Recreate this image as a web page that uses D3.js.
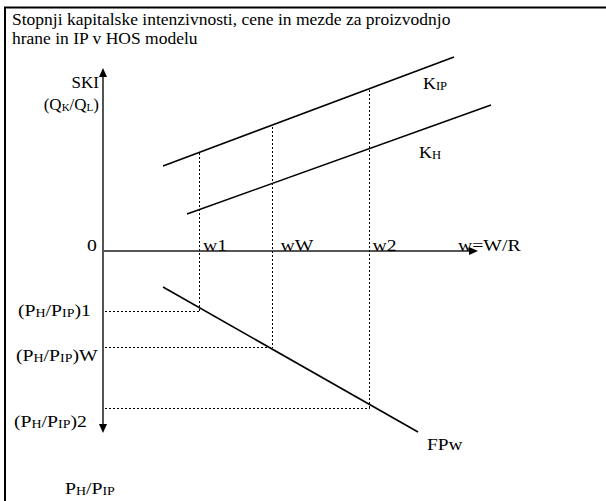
<!DOCTYPE html>
<html>
<head>
<meta charset="utf-8">
<script src="https://cdn.jsdelivr.net/npm/d3@7"></script>
<style>
  body { margin: 0; background: #fff; }
</style>
</head>
<body>
<div id="chart"></div>
<script>
// Title lines
const titleLines = ['Stopnji kapitalske intenzivnosti, cene in mezde za proizvodnjo', 'hrane in IP v HOS modelu'];

// Wage levels on the w = W/R axis
const wageNames = ['w1', 'wW', 'w2'];
const wageValues = [24, 42.25, 66.5];
// capital intensity of the IP line at each wage (top of the dotted guide)
const skiAtWage = [49, 62, 80.5];
// relative price at each wage (bottom of the dotted guide)
const priceAtWage = [30, 48, 78.5];
const priceNames = ['1', 'W', '2'];

// Capital intensity lines (w, SKI)
const kIP = [[15, 42.5], [87.75, 97]];
const kH = [[21, 18.5], [97, 73]];
// Factor price line (w, PH/PIP)
const fpw = [[15, 18], [78.75, 90.5]];

const axisEnds = {w: 93.75, ski: 91.5, price: 91};

const FONT = '"Liberation Serif", "Times New Roman", Times, serif';
const width = 606, height = 501;
const svg = d3.select('#chart').append('svg')
    .attr('width', width)
    .attr('height', height)
    .style('font-family', FONT);

// Scales
const xScale = d3.scaleLinear().domain([0, 100]).range([103, 503]);
const yScale = d3.scaleLinear().domain([0, 100]).range([251, 51]);   // SKI, upward
const pScale = d3.scaleLinear().domain([0, 100]).range([251, 451]);  // price, downward

// Frame
svg.append('rect')
    .attr('x', 5).attr('y', 7.5)
    .attr('width', 610).attr('height', 520)
    .attr('fill', 'none')
    .attr('stroke', '#000')
    .attr('stroke-width', 2);

// Label helper: main text with small subscripts, slightly widened like the original
function label(x, y, parts, opts) {
  const o = Object.assign({size: 17, sub: 12, sx: 1.16, anchor: 'start'}, opts);
  const t = svg.append('g')
      .attr('transform', `translate(${x},${y}) scale(${o.sx},1)`)
    .append('text')
      .attr('font-family', FONT)
      .attr('font-size', o.size)
      .attr('fill', '#000')
      .attr('text-anchor', o.anchor);
  let low = false;
  parts.forEach(p => {
    if (typeof p === 'string') {
      t.append('tspan').attr('font-size', o.size).attr('dy', low ? -1 : 0).text(p);
      low = false;
    } else {
      t.append('tspan').attr('font-size', o.sub).attr('dy', low ? 0 : 1).text(p.sub);
      low = true;
    }
  });
  return t;
}

// Title
titleLines.forEach((line, i) => label(12, 25 + i * 18.5, [line], {size: 17, sx: 1.03}));

// Axes
const axisColor = '#555';
svg.append('line')
    .attr('x1', xScale(0)).attr('x2', xScale(0))
    .attr('y1', yScale(axisEnds.ski) + 6).attr('y2', pScale(axisEnds.price) - 6)
    .attr('stroke', axisColor).attr('stroke-width', 2);
svg.append('line')
    .attr('x1', xScale(0)).attr('x2', xScale(axisEnds.w) - 6)
    .attr('y1', yScale(0)).attr('y2', yScale(0))
    .attr('stroke', axisColor).attr('stroke-width', 2);

// Arrowheads
const tri = (x, y, dir) => {
  if (dir === 'up') return `M${x},${y} L${x - 4},${y + 9} L${x + 4},${y + 9} Z`;
  if (dir === 'down') return `M${x},${y} L${x - 4},${y - 9} L${x + 4},${y - 9} Z`;
  return `M${x},${y} L${x - 9},${y - 4} L${x - 9},${y + 4} Z`;
};
svg.append('path').attr('d', tri(xScale(0), yScale(axisEnds.ski), 'up')).attr('fill', '#000');
svg.append('path').attr('d', tri(xScale(0), pScale(axisEnds.price), 'down')).attr('fill', '#000');
svg.append('path').attr('d', tri(xScale(axisEnds.w), yScale(0), 'right')).attr('fill', '#000');

// Dotted guides
const guides = svg.append('g')
    .attr('stroke', '#000')
    .attr('stroke-width', 1)
    .attr('stroke-dasharray', '2,2')
    .attr('shape-rendering', 'crispEdges');
wageValues.forEach((w, i) => {
  const gx = Math.round(xScale(w)) + 0.5;
  const gy = Math.round(pScale(priceAtWage[i])) + 0.5;
  guides.append('line')
      .attr('x1', gx).attr('x2', gx)
      .attr('y1', yScale(skiAtWage[i])).attr('y2', gy);
  guides.append('line')
      .attr('x1', xScale(0) + 2).attr('x2', gx)
      .attr('y1', gy).attr('y2', gy);
});

// Solid lines
const skiLine = d3.line().x(d => xScale(d[0])).y(d => yScale(d[1]));
const priceLine = d3.line().x(d => xScale(d[0])).y(d => pScale(d[1]));
svg.selectAll('.ski-line').data([kIP, kH])
  .enter().append('path')
    .attr('class', 'ski-line')
    .attr('d', skiLine)
    .attr('fill', 'none').attr('stroke', '#000').attr('stroke-width', 1.6);
svg.append('path')
    .attr('d', priceLine(fpw))
    .attr('fill', 'none').attr('stroke', '#000').attr('stroke-width', 1.6);

// Axis labels
label(99, 88, ['SKI'], {sx: 1.0, anchor: 'end'});
label(99, 110, ['(Q', {sub: 'K'}, '/Q', {sub: 'L'}, ')'], {sub: 11, sx: 1.0, anchor: 'end'});
label(87, 251, ['0']);

const wageLabelDx = [4, 8.5, 3.5];
wageValues.forEach((w, i) => {
  label(xScale(w) + wageLabelDx[i], yScale(0), [wageNames[i]]);
});
label(458, yScale(0), ['w=W/R']);

label(423, 88.5, ['K', {sub: 'IP'}], {sx: 1.05});
label(419, 157.5, ['K', {sub: 'H'}], {sx: 1.05});
label(427, 449.5, ['FPw'], {sx: 1.14});

const priceLabelX = [18, 16, 14];
const priceLabelY = [316, 361, 427];
priceNames.forEach((n, i) => {
  label(priceLabelX[i], priceLabelY[i], ['(P', {sub: 'H'}, '/P', {sub: 'IP'}, ')' + n]);
});
label(65, 494, ['P', {sub: 'H'}, '/P', {sub: 'IP'}]);
</script>
</body>
</html>
